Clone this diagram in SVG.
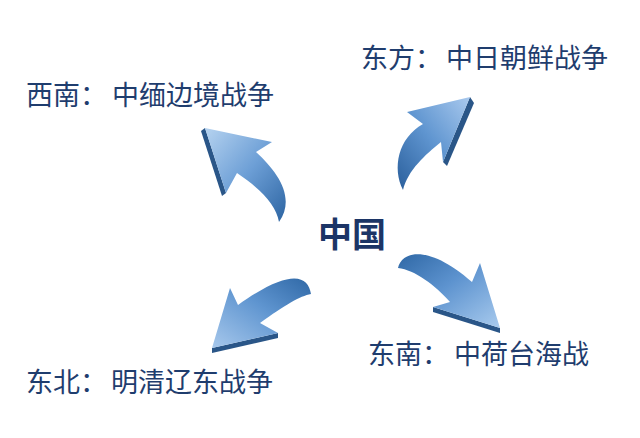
<svg xmlns="http://www.w3.org/2000/svg" width="640" height="438" viewBox="0 0 640 438">
<defs>
<linearGradient id="gNW" x1="0" y1="0" x2="1" y2="1"><stop offset="0" stop-color="#b6d3f0"/><stop offset="0.5" stop-color="#6d9fd6"/><stop offset="1" stop-color="#2c64a2"/></linearGradient>
<linearGradient id="gNE" x1="1" y1="0" x2="0" y2="1"><stop offset="0" stop-color="#a9c9ee"/><stop offset="0.5" stop-color="#5f95d0"/><stop offset="1" stop-color="#2a5f9c"/></linearGradient>
<linearGradient id="gSE" x1="0" y1="0" x2="1" y2="1"><stop offset="0" stop-color="#2f68a6"/><stop offset="0.45" stop-color="#5d93cf"/><stop offset="1" stop-color="#a9cbee"/></linearGradient>
<linearGradient id="gSW" x1="1" y1="0" x2="0" y2="1"><stop offset="0" stop-color="#2f68a6"/><stop offset="0.45" stop-color="#5f95d0"/><stop offset="1" stop-color="#a7c8ec"/></linearGradient>
</defs>
<style>
.lbl{font-family:"Noto Sans CJK SC","Noto Sans",sans-serif;font-size:27px;fill:#1f3d6e}
.ctr{font-family:"Noto Sans CJK SC","Noto Sans",sans-serif;font-size:34px;font-weight:bold;fill:#1c3566}
.side{fill:#2a5688}
</style>
<rect width="640" height="438" fill="#ffffff"/>
<g id="connectors">
<g id="arrow-nw">
<path class="side" d="M205,128 L201,131 L222,196 L226,193 Z"/>
<path d="M205,128 L272,142 L256,152 C278,172 296,198 279,222 C276,205 262,190 237,173 L226,193 Z" fill="url(#gNW)"/>
</g>
<g id="arrow-ne">
<path class="side" d="M470,97 L474,103 L447,166 L443,162 Z"/>
<path d="M470,97 L443,162 L441,142 C425,155 408,170 403,190 C392,168 398,138 423,124 L407,112 Z" fill="url(#gNE)"/>
</g>
<g id="arrow-se">
<path class="side" d="M433,307 L500,328 L500,333 L433,312 Z"/>
<path d="M398,268 C402,250 430,245 472,282 L480,263 L500,328 L433,307 L450,302 C435,285 415,270 398,268 Z" fill="url(#gSE)"/>
</g>
<g id="arrow-sw">
<path class="side" d="M212,348 L278,333 L278,338 L212,353 Z"/>
<path d="M311,294 C308,275 290,268 238,305 L230,288 L212,348 L278,333 L260,323 C285,305 300,296 311,294 Z" fill="url(#gSW)"/>
</g>
</g>
<g id="center"><text class="ctr" x="318" y="247">中国</text></g>
<g id="southwest-label"><text class="lbl" y="105"><tspan x="26">西南：</tspan><tspan x="112">中缅边境战争</tspan></text></g>
<g id="east-label"><text class="lbl" y="68"><tspan x="361">东方：</tspan><tspan x="446">中日朝鲜战争</tspan></text></g>
<g id="southeast-label"><text class="lbl" y="364"><tspan x="368">东南：</tspan><tspan x="454">中荷台海战</tspan></text></g>
<g id="northeast-label"><text class="lbl" y="392"><tspan x="26">东北：</tspan><tspan x="111">明清辽东战争</tspan></text></g>
</svg>
